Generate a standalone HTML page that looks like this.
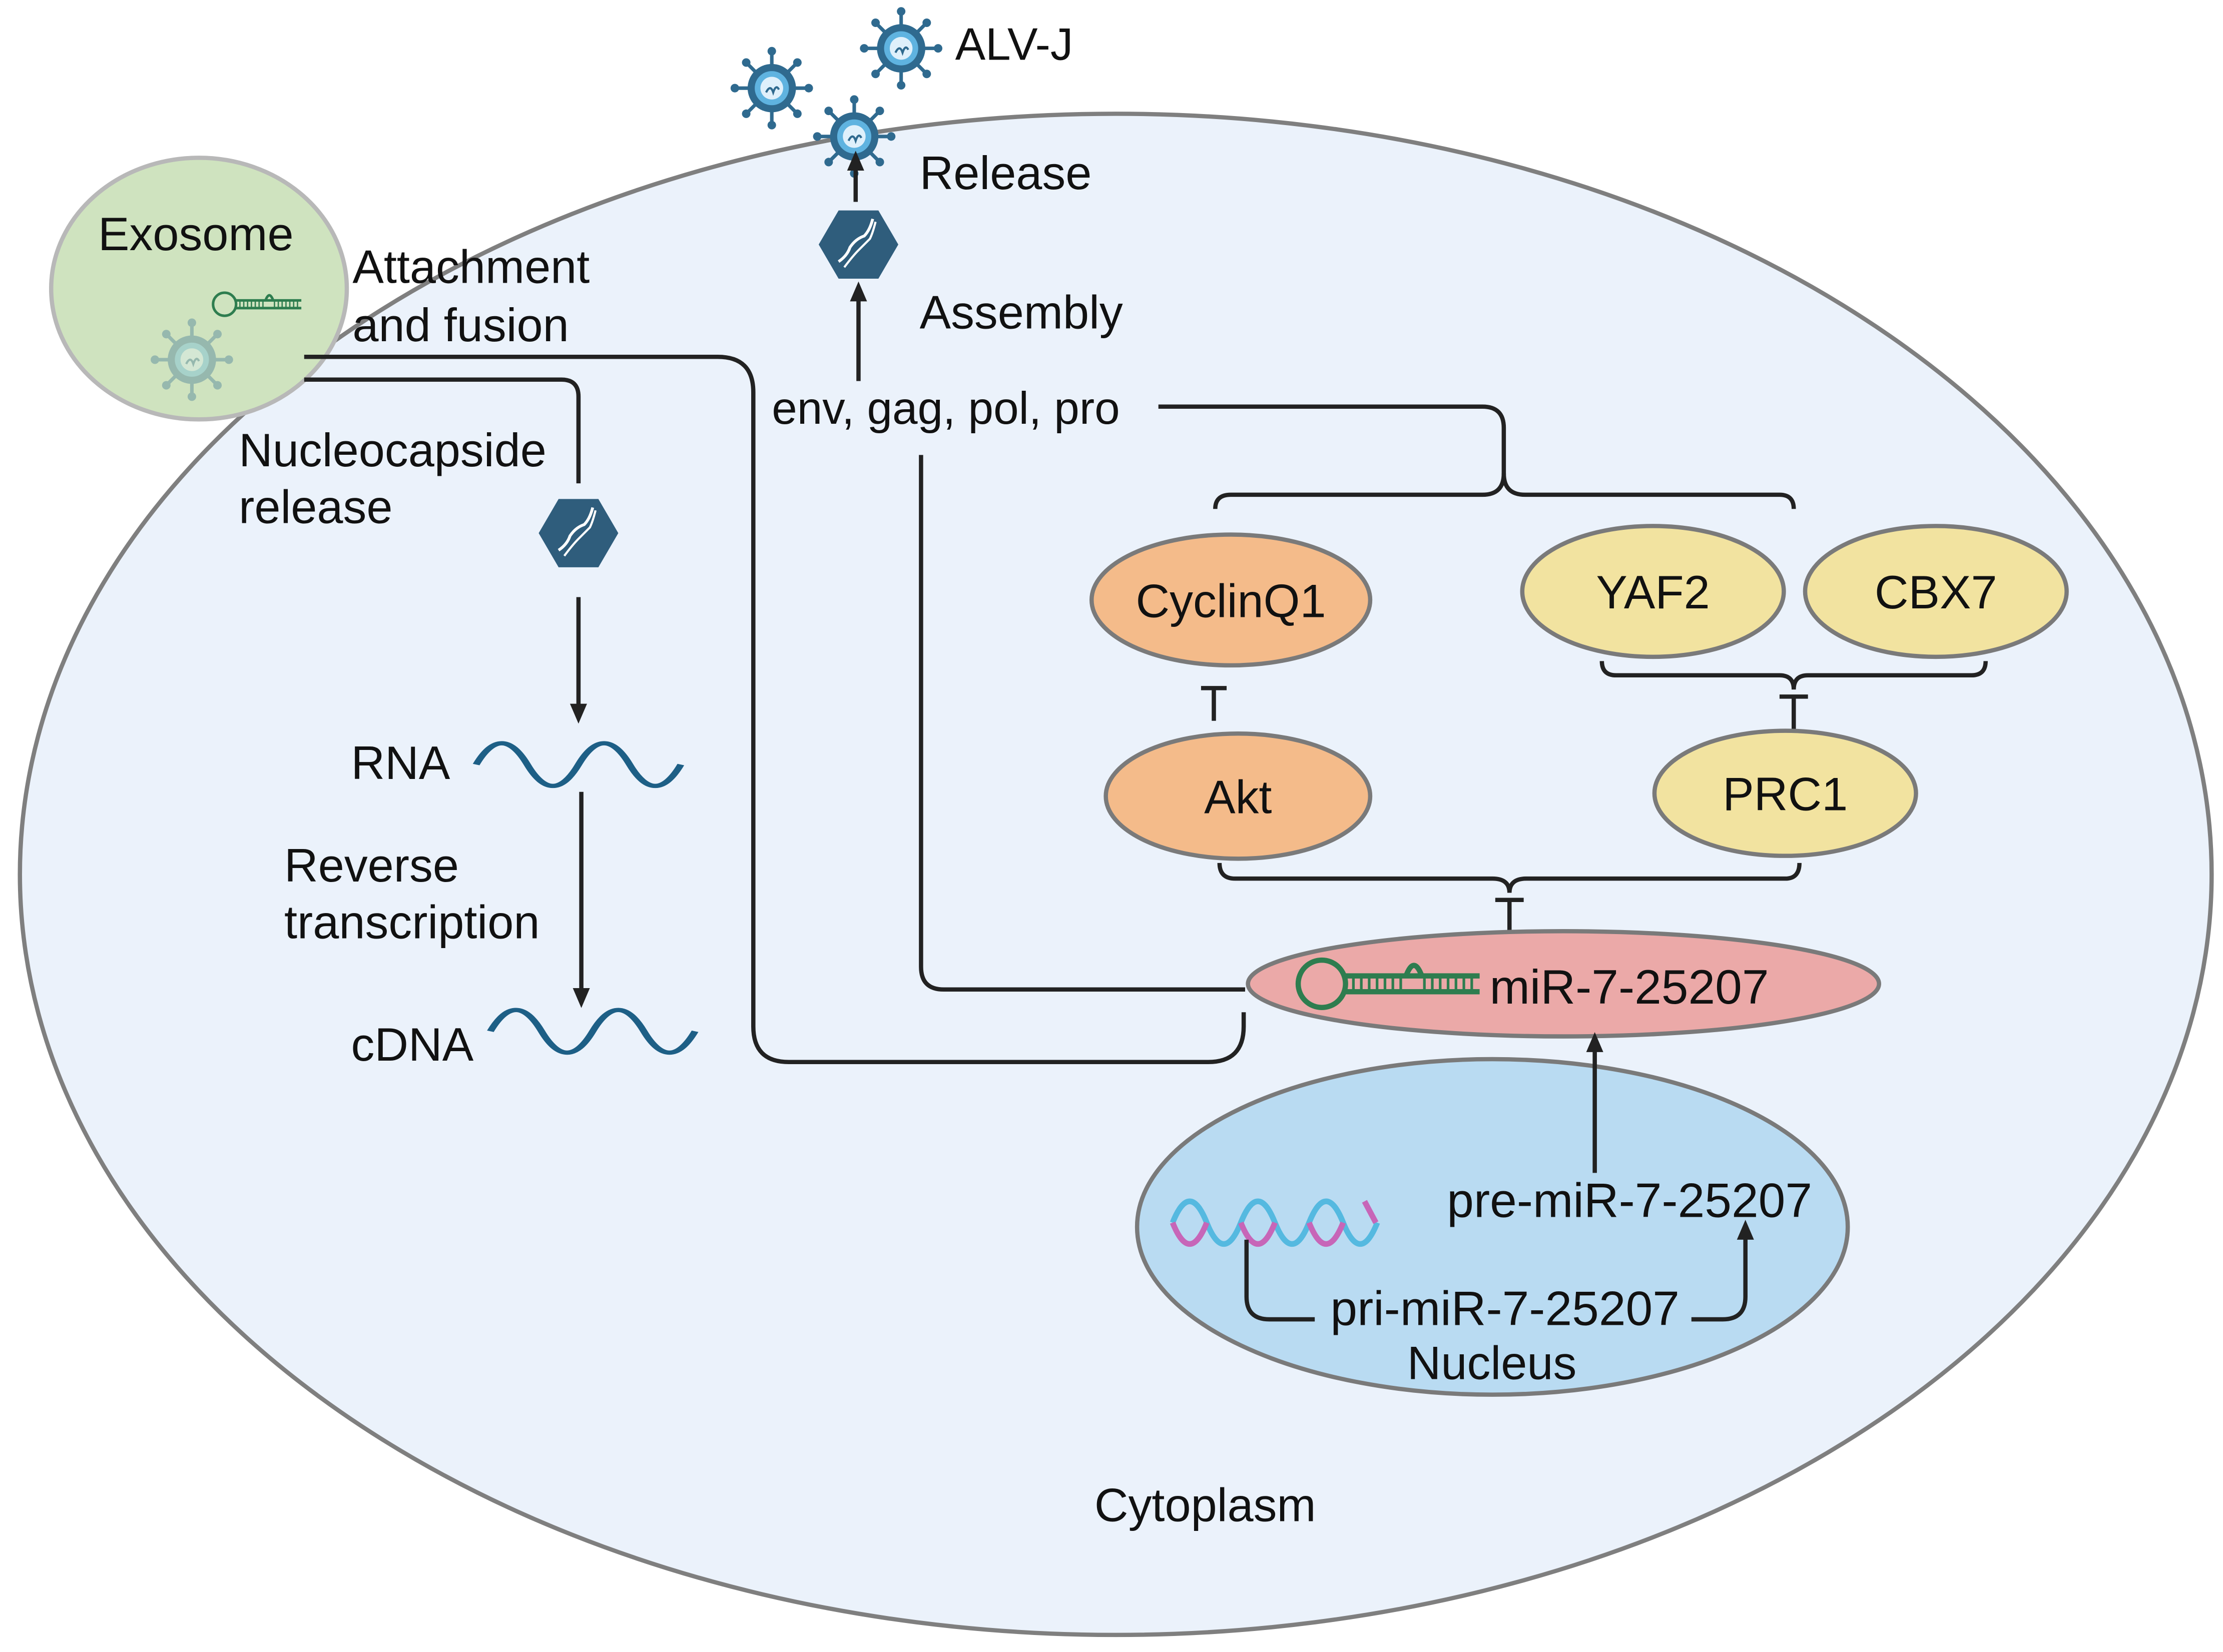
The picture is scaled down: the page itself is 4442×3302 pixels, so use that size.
<!DOCTYPE html>
<html><head><meta charset="utf-8"><style>html,body{margin:0;padding:0;background:#fff}svg{display:block}</style></head>
<body>
<svg width="4442" height="3302" viewBox="0 0 1564 1162" preserveAspectRatio="none" xmlns="http://www.w3.org/2000/svg" font-family="Liberation Sans, sans-serif">
<defs>
<marker id="ah" markerWidth="14" markerHeight="14" refX="10" refY="7" orient="auto" markerUnits="userSpaceOnUse" viewBox="0 0 14 14"><path d="M0,1 L14,7 L0,13 z" fill="#222"/></marker>
<g id="vir">
 <g stroke="#2f6a8f" stroke-width="2.5">
  <line x1="0" y1="-26" x2="0" y2="26"/><line x1="-26" y1="0" x2="26" y2="0"/>
  <line x1="-18" y1="-18" x2="18" y2="18"/><line x1="-18" y1="18" x2="18" y2="-18"/>
 </g>
 <g fill="#2f6a8f"><circle cx="0" cy="-26" r="3"/><circle cx="0" cy="26" r="3"/><circle cx="-26" cy="0" r="3"/><circle cx="26" cy="0" r="3"/><circle cx="-18" cy="-18" r="3"/><circle cx="18" cy="18" r="3"/><circle cx="-18" cy="18" r="3"/><circle cx="18" cy="-18" r="3"/></g>
 <circle r="17" fill="#2f6a8f"/><circle r="12" fill="#5fb3e0"/><circle r="8" fill="#dff0fb"/>
 <path d="M-4,3 q3,-6 5,0 q2,-6 4,-2" stroke="#2f6a8f" fill="none" stroke-width="1.5"/>
</g>
<g id="hex">
 <polygon points="-14,-24 14,-24 28,0 14,24 -14,24 -28,0" fill="#2f5d7c"/>
 <path d="M-14,12 q6,-4 8,-10 q4,-6 10,-8 q4,-4 6,-12" stroke="#fff" fill="none" stroke-width="2"/>
 <path d="M-10,16 q6,-8 10,-12 q4,-4 8,-8 q2,-4 4,-12" stroke="#fff" fill="none" stroke-width="1.5"/>
</g>
<g id="hair">
 <circle cx="0" cy="0" r="9" fill="none" stroke="#2e7d4f" stroke-width="2"/>
 <line x1="9" y1="-3" x2="60" y2="-3" stroke="#2e7d4f" stroke-width="2"/>
 <line x1="9" y1="3" x2="60" y2="3" stroke="#2e7d4f" stroke-width="2"/>
 <g stroke="#2e7d4f" stroke-width="1"><path d="M12,-3v6M15,-3v6M18,-3v6M21,-3v6M24,-3v6M27,-3v6M30,-3v6M39,-3v6M42,-3v6M45,-3v6M48,-3v6M51,-3v6M54,-3v6M57,-3v6"/></g>
 <path d="M32,-3 q3,-8 6,0" fill="none" stroke="#2e7d4f" stroke-width="2"/>
</g>
</defs>
<rect width="1564" height="1162" fill="#fff"/>
<ellipse cx="785" cy="615" rx="771" ry="535" fill="#ebf2fb" stroke="#7f7f7f" stroke-width="3"/>
<ellipse cx="140" cy="203" rx="104" ry="92" fill="#cfe3bf" stroke="#b8b8b8" stroke-width="3"/>
<g opacity="0.35"><use href="#vir" transform="translate(135,253)"/></g>
<use href="#hair" transform="translate(158,214) scale(0.9)"/>
<text x="69" y="176" font-size="33" fill="#111">Exosome</text>

<use href="#vir" transform="translate(543,62)"/>
<use href="#vir" transform="translate(634,34)"/>
<use href="#vir" transform="translate(601,96)"/>
<text x="672" y="42" font-size="32" fill="#111">ALV-J</text>
<text x="647" y="133" font-size="33" fill="#111">Release</text>
<text x="647" y="231" font-size="33" fill="#111">Assembly</text>
<text x="248" y="199" font-size="33" fill="#111">Attachment</text>
<text x="248" y="240" font-size="33" fill="#111">and fusion</text>
<text x="168" y="328" font-size="33" fill="#111">Nucleocapside</text>
<text x="168" y="368" font-size="33" fill="#111">release</text>
<text x="543" y="298" font-size="32" fill="#111">env, gag, pol, pro</text>
<text x="247" y="548" font-size="33" fill="#111">RNA</text>
<text x="200" y="620" font-size="33" fill="#111">Reverse</text>
<text x="200" y="660" font-size="33" fill="#111">transcription</text>
<text x="247" y="746" font-size="33" fill="#111">cDNA</text>
<text x="770" y="1070" font-size="33" fill="#111">Cytoplasm</text>

<use href="#hex" transform="translate(604,172)"/>
<use href="#hex" transform="translate(407,375)"/>

<g fill="none" stroke="#222" stroke-width="3">
 <path d="M214,251 H505 Q530,251 530,276 V722 Q530,747 555,747 H850 Q875,747 875,722 V712"/>
 <path d="M214,267 H395 Q407,267 407,279 V340"/>
 <path d="M407,420 V505" marker-end="url(#ah)"/>
 <path d="M409,557 V705" marker-end="url(#ah)"/>
 <path d="M648,320 V680 Q648,696 664,696 H876"/>
 <path d="M604,268 V202" marker-end="url(#ah)"/>
 <path d="M602,142 V110" marker-end="url(#ah)"/>
 <path d="M815,286 H1043 Q1058,286 1058,301 V333 Q1058,348 1043,348 H866 Q855,348 855,358"/>
 <path d="M1058,333 Q1058,348 1073,348 H1252 Q1262,348 1262,358"/>
 <path d="M854,507 V484 M845,484 H863"/>
 <path d="M1127,465 Q1127,475 1137,475 H1252 Q1262,475 1262,485 Q1262,475 1272,475 H1387 Q1397,475 1397,465"/>
 <path d="M1262,515 V490 M1252,490 H1272"/>
 <path d="M858,607 Q858,618 869,618 H1050 Q1062,618 1062,628 Q1062,618 1074,618 H1256 Q1266,618 1266,607"/>
 <path d="M1062,656 V633 M1052,633 H1072"/>
</g>

<path d="M335,548 q18,-50 36,0 q18,50 36,0 q18,-50 36,0 q18,50 36,0" transform="translate(0,-7) scale(1,0.6) translate(0,360)" fill="none" stroke="#1d5f86" stroke-width="5"/>
<path d="M345,738 q18,-50 36,0 q18,50 36,0 q18,-50 36,0 q18,50 36,0" transform="translate(0,-9) scale(1,0.6) translate(0,486)" fill="none" stroke="#1d5f86" stroke-width="5"/>

<ellipse cx="866" cy="422" rx="98" ry="46" fill="#f4bb8a" stroke="#7a7a7a" stroke-width="3"/>
<text x="866" y="434" font-size="33" text-anchor="middle" fill="#111">CyclinQ1</text>
<ellipse cx="871" cy="560" rx="93" ry="44" fill="#f4bb8a" stroke="#7a7a7a" stroke-width="3"/>
<text x="871" y="572" font-size="33" text-anchor="middle" fill="#111">Akt</text>
<ellipse cx="1163" cy="416" rx="92" ry="46" fill="#f2e3a0" stroke="#7a7a7a" stroke-width="3"/>
<text x="1163" y="428" font-size="33" text-anchor="middle" fill="#111">YAF2</text>
<ellipse cx="1362" cy="416" rx="92" ry="46" fill="#f2e3a0" stroke="#7a7a7a" stroke-width="3"/>
<text x="1362" y="428" font-size="33" text-anchor="middle" fill="#111">CBX7</text>
<ellipse cx="1256" cy="558" rx="92" ry="44" fill="#f2e3a0" stroke="#7a7a7a" stroke-width="3"/>
<text x="1256" y="570" font-size="33" text-anchor="middle" fill="#111">PRC1</text>

<ellipse cx="1050" cy="863" rx="250" ry="118" fill="#b9dbf2" stroke="#7a7a7a" stroke-width="3"/>
<ellipse cx="1100" cy="692" rx="222" ry="37" fill="#eba9a8" stroke="#7a7a7a" stroke-width="3"/>
<use href="#hair" transform="translate(930,692) scale(1.85)"/>
<text x="1048" y="706" font-size="34" fill="#111">miR-7-25207</text>

<path d="M825,860 q12,-30 24,0 q12,30 24,0 q12,-30 24,0 q12,30 24,0 q12,-30 24,0 q12,30 24,0" fill="none" stroke="#55b9e0" stroke-width="4"/>
<path d="M825,860 q12,30 24,0 M873,860 q12,30 24,0 M921,860 q12,30 24,0 M960,845 l8,15" fill="none" stroke="#c766b8" stroke-width="4"/>
<g fill="none" stroke="#222" stroke-width="3">
 <path d="M1122,825 V730" marker-end="url(#ah)"/>
 <path d="M877,872 V912 Q877,928 893,928 H925"/>
 <path d="M1190,928 H1212 Q1228,928 1228,912 V862" marker-end="url(#ah)"/>
</g>
<text x="1018" y="856" font-size="34" fill="#111">pre-miR-7-25207</text>
<text x="936" y="932" font-size="34" fill="#111">pri-miR-7-25207</text>
<text x="990" y="970" font-size="33" fill="#111">Nucleus</text>
</svg>
</body></html>
